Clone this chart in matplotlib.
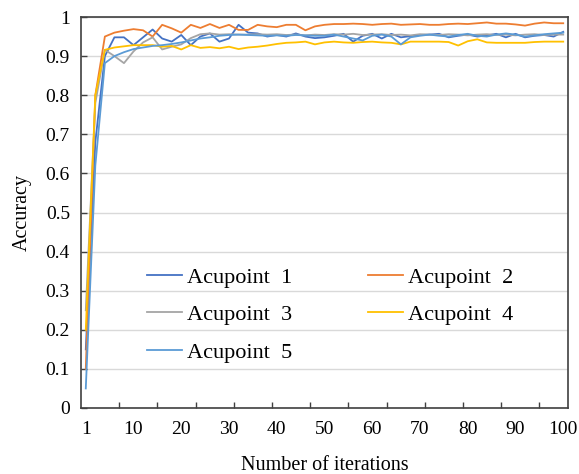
import numpy as np
import matplotlib
matplotlib.use("Agg")
import matplotlib.pyplot as plt

plt.rcParams['font.family'] = ['Liberation Serif', 'DejaVu Serif']

# sampled every 2 iterations (category positions 0..100)
iters = list(range(0, 101, 2))

acu1 = [0.15, 0.68, 0.90, 0.948, 0.948, 0.928, 0.948, 0.968, 0.945, 0.937,
        0.954, 0.928, 0.950, 0.958, 0.937, 0.945, 0.980, 0.960, 0.958, 0.950,
        0.954, 0.950, 0.958, 0.950, 0.946, 0.948, 0.952, 0.957, 0.937, 0.952,
        0.957, 0.945, 0.957, 0.948, 0.951, 0.954, 0.955, 0.957, 0.948, 0.952,
        0.955, 0.950, 0.953, 0.957, 0.948, 0.957, 0.948, 0.952, 0.954, 0.950,
        0.962]
acu2 = [0.10, 0.80, 0.950, 0.960, 0.965, 0.969, 0.966, 0.950, 0.980, 0.971,
        0.960, 0.980, 0.972, 0.982, 0.972, 0.980, 0.967, 0.967, 0.980, 0.976,
        0.974, 0.980, 0.980, 0.966, 0.976, 0.980, 0.982, 0.982, 0.983, 0.982,
        0.980, 0.982, 0.983, 0.980, 0.981, 0.982, 0.980, 0.980, 0.982, 0.983,
        0.982, 0.984, 0.986, 0.983, 0.983, 0.981, 0.978, 0.983, 0.986, 0.984,
        0.984]
acu3 = [0.25, 0.78, 0.916, 0.900, 0.882, 0.912, 0.935, 0.948, 0.917, 0.924,
        0.930, 0.946, 0.956, 0.958, 0.955, 0.956, 0.955, 0.955, 0.956, 0.955,
        0.956, 0.954, 0.955, 0.953, 0.955, 0.954, 0.956, 0.955, 0.957, 0.954,
        0.955, 0.956, 0.954, 0.955, 0.953, 0.956, 0.955, 0.954, 0.956, 0.955,
        0.953, 0.955, 0.956, 0.954, 0.955, 0.953, 0.955, 0.956, 0.954, 0.955,
        0.955]
acu4 = [0.20, 0.80, 0.916, 0.922, 0.925, 0.928, 0.928, 0.928, 0.924, 0.926,
        0.917, 0.928, 0.921, 0.923, 0.920, 0.924, 0.918, 0.922, 0.924, 0.927,
        0.931, 0.934, 0.935, 0.937, 0.930, 0.935, 0.937, 0.935, 0.934, 0.936,
        0.937, 0.935, 0.934, 0.930, 0.937, 0.937, 0.937, 0.937, 0.936, 0.927,
        0.938, 0.943, 0.935, 0.934, 0.934, 0.934, 0.934, 0.936, 0.937, 0.937,
        0.937]
acu5 = [0.05, 0.62, 0.882, 0.900, 0.910, 0.918, 0.922, 0.926, 0.928, 0.931,
        0.935, 0.940, 0.945, 0.948, 0.952, 0.954, 0.955, 0.954, 0.953, 0.952,
        0.953, 0.952, 0.954, 0.953, 0.952, 0.952, 0.955, 0.950, 0.945, 0.940,
        0.952, 0.955, 0.950, 0.930, 0.948, 0.952, 0.955, 0.952, 0.950, 0.954,
        0.957, 0.952, 0.950, 0.955, 0.958, 0.955, 0.950, 0.953, 0.956, 0.958,
        0.960]

series = [acu1, acu2, acu3, acu4, acu5]
names = ['Acupoint  1', 'Acupoint  2', 'Acupoint  3', 'Acupoint  4', 'Acupoint  5']
colors = ['#4472C4', '#ED7D31', '#A5A5A5', '#FFC000', '#5B9BD5']

xlabels = ['1', '10', '20', '30', '40', '50', '60', '70', '80', '90', '100']
xlabel_pos = [0, 10, 20, 30, 40, 50, 60, 70, 80, 90, 100]

fig = plt.figure(figsize=(5.79, 4.74), dpi=100)
ax = fig.add_axes([81/579, 1 - 408/474, 487/579, 391/474])

lines = []
for y, name, c in zip(series, names, colors):
    l, = ax.plot(iters, y, color=c, lw=1.3, label=name)
    lines.append(l)

ax.set_xlim(-1, 101)
ax.set_ylim(0, 1)

# y axis
yt = np.arange(0, 1.01, 0.1)
ax.set_yticks(yt)
ax.set_yticklabels(['0'] + ['%.1f' % v for v in yt[1:-1]] + ['1'])
ax.yaxis.grid(True, color='#d9d9d9', lw=1.0)
ax.set_axisbelow(True)

# x axis: labels without marks, marks every 8 categories
ax.set_xticks(xlabel_pos)
ax.set_xticklabels(xlabels)
ax.set_xticks([-1 + 8*k for k in range(1, 13)], minor=True)
ax.tick_params(axis='x', which='major', length=0, pad=9, labelsize=14)
ax.tick_params(axis='x', which='minor', direction='in', length=4, width=1, color='#404040')
ax.tick_params(axis='y', direction='in', length=4, width=1, color='#404040', pad=8, labelsize=14)

for s in ax.spines.values():
    s.set_color('#404040')
    s.set_linewidth(1.2)

ax.set_xlabel('Number of iterations', fontsize=14.5, labelpad=13)
ax.set_ylabel('Accuracy', fontsize=14.5, labelpad=10)

# row-major legend order (1 2 / 3 4 / 5)
order = [0, 2, 4, 1, 3]
ax.legend([lines[i] for i in order], [names[i] for i in order],
          ncol=2, frameon=False, fontsize=16, loc='upper left',
          bbox_to_anchor=(0.135, 0.36), borderpad=0, borderaxespad=0,
          handlelength=1.6, handletextpad=0.2, columnspacing=3.4,
          labelspacing=0.76)

fig.savefig('out.png', dpi=100)
